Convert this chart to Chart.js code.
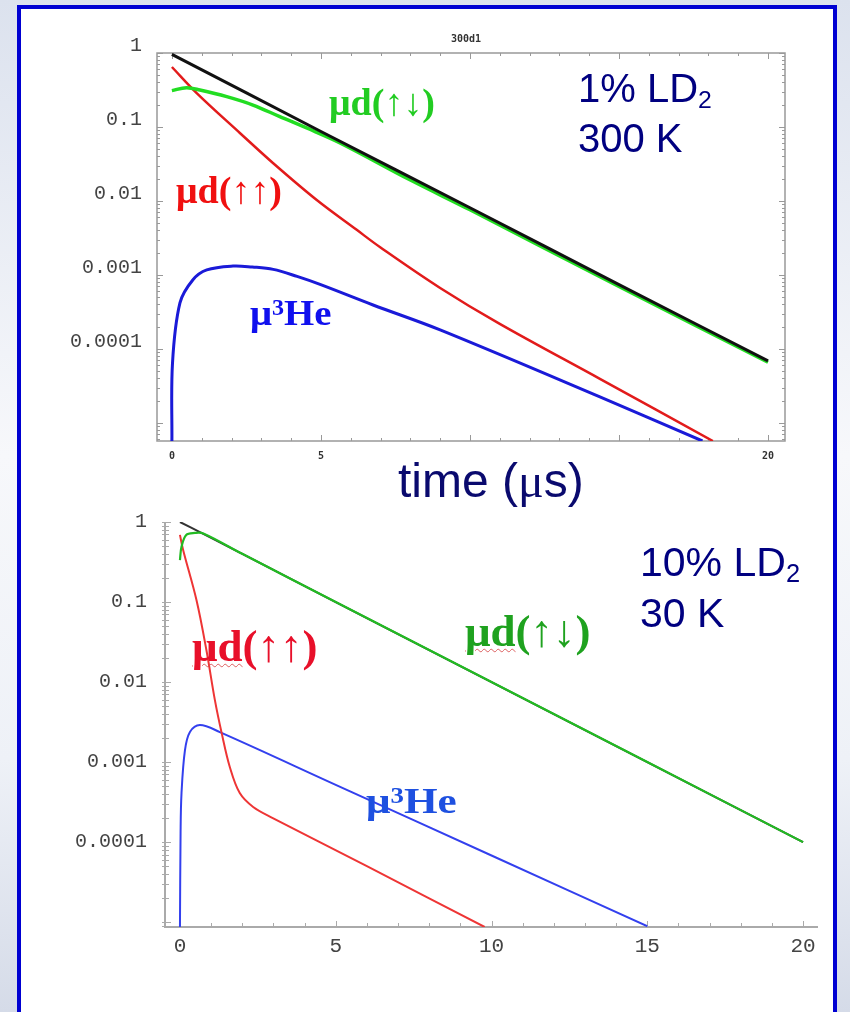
<!DOCTYPE html>
<html lang="en">
<head>
<meta charset="UTF-8">
<title>Muon populations in D2 targets</title>
<script src="https://cdn.jsdelivr.net/npm/chart.js"></script>
<style>
  html, body { margin: 0; padding: 0; }
  body {
    width: 850px; height: 1012px; overflow: hidden; position: relative;
    background: linear-gradient(to bottom, #dce2ee 0%, #f7f8fb 45%, #eef1f7 75%, #d5dbe8 100%);
    font-family: Arial, "Liberation Sans", sans-serif;
  }
  #frame {
    position: absolute; left: 17px; top: 5px; width: 812px; height: 1100px;
    border: 4px solid #0000d2; background: #fff;
  }
  .plot { position: absolute; left: 0; width: 850px; }
  #topPlot { top: 0; height: 480px; }
  #bottomPlot { top: 490px; height: 522px; }
  .lbl { position: absolute; white-space: nowrap; line-height: 1; transform-origin: left center; }
  .sym { font-family: "Liberation Serif", "Times New Roman", serif; font-weight: bold; }
  .sym .ar { font-weight: normal; }
  .sym sup { font-size: 0.62em; vertical-align: baseline; position: relative; top: -0.45em; }
  .spell { text-decoration: underline wavy rgba(215, 70, 70, 0.85); text-decoration-thickness: 1px; text-underline-offset: 2px; }
  .navy { color: #000080; font-family: Arial, "Liberation Sans", sans-serif; }
  .navy sub { font-size: 0.62em; vertical-align: baseline; position: relative; top: 0.25em; }
</style>
</head>
<body>
<div id="frame"></div>

<div class="plot" id="topPlot"><canvas id="topChart"></canvas></div>
<div class="plot" id="bottomPlot"><canvas id="bottomChart"></canvas></div>

<!-- top panel annotations -->
<div class="lbl" style="left:451px; top:33px; font: bold 10px 'DejaVu Sans Mono', monospace; color:#333;">300d1</div>
<div class="lbl sym" style="left:329px; top:83px; font-size:38px; color:#22cc22;">μd(<span class="ar">↑↓</span>)</div>
<div class="lbl sym" style="left:176px; top:171px; font-size:38px; color:#f01010;">μd(<span class="ar">↑↑</span>)</div>
<div class="lbl sym" style="left:250px; top:295px; font-size:36px; color:#1010ee; transform: scaleX(1.08);">μ<sup>3</sup>He</div>
<div class="lbl navy" style="left:578px; top:68px; font-size:40px;">1% LD<sub>2</sub></div>
<div class="lbl navy" style="left:578px; top:118px; font-size:40px;">300 K</div>
<div class="lbl navy" style="left:398px; top:457px; font-size:48px; color:#0a0a6e;">time (<span style="font-family:'Liberation Serif',serif;">μ</span>s)</div>

<!-- bottom panel annotations -->
<div class="lbl navy" style="left:640px; top:542px; font-size:41px;">10% LD<sub>2</sub></div>
<div class="lbl navy" style="left:640px; top:593px; font-size:41px;">30 K</div>
<div class="lbl sym" style="left:465px; top:609px; font-size:45px; color:#1fa21f;"><span class="spell">μd</span>(<span class="ar">↑↓</span>)</div>
<div class="lbl sym" style="left:192px; top:624px; font-size:45px; color:#e8102a;"><span class="spell">μd</span>(<span class="ar">↑↑</span>)</div>
<div class="lbl sym" style="left:366px; top:783px; font-size:36px; color:#1e50e0; transform: scaleX(1.2);">μ<sup>3</sup>He</div>

<script>
// ---- 1% LD2, 300 K : relative populations vs time (µs) ----
const topTicksX = [0, 5, 20];
const topTicksY = [1, 0.1, 0.01, 0.001, 0.0001];
const topLabelsY = ['1', '0.1', '0.01', '0.001', '0.0001'];

const topTotalT = [0, 5, 10, 15, 20];
const topTotalY = [0.96, 0.087, 0.0081, 7.4e-4, 6.9e-5];

const topAntiT = [0, 0.49, 0.94, 1.84, 2.72, 3.62, 4.52, 5.64, 8, 10, 15, 20];
const topAntiY = [0.31, 0.34, 0.316, 0.257, 0.198, 0.138, 0.097, 0.061, 0.0192, 0.0076, 7.0e-4, 6.6e-5];

const topParaT = [0, 0.84, 2.28, 3.39, 4.86, 6.2, 7, 9, 11, 14.36, 18.15];
const topParaY = [0.647, 0.285, 0.083, 0.0326, 0.0103, 0.00407, 0.00235, 6.67e-4, 2.18e-4, 3.94e-5, 5.7e-6];

const topHeT = [0, 0.02, 0.27, 0.7, 1.17, 2.05, 2.7, 3.4, 4.2, 4.97, 6.75, 9.0, 14.36, 17.8];
const topHeY = [5.7e-6, 6.45e-5, 4.19e-4, 8.56e-4, 1.17e-3, 1.32e-3, 1.28e-3, 1.19e-3, 9.55e-4, 7.45e-4, 3.93e-4, 1.81e-4, 2.25e-5, 5.7e-6];

// ---- 10% LD2, 30 K ----
const botTicksX = [0, 5, 10, 15, 20];
const botTicksY = [1, 0.1, 0.01, 0.001, 0.0001];
const botLabelsY = ['1', '0.1', '0.01', '0.001', '0.0001'];

const botTotalT = [0, 0.75, 5, 10, 15, 20];
const botTotalY = [1.0, 0.71, 0.1, 0.01, 0.001, 1.0e-4];

const botAntiT = [0, 0.05, 0.2, 0.48, 0.75, 2, 5, 10, 15, 20];
const botAntiY = [0.335, 0.49, 0.69, 0.73, 0.72, 0.40, 0.1, 0.01, 0.001, 1.0e-4];

const botParaT = [0, 0.1, 0.53, 0.85, 1.12, 1.34, 1.6, 1.92, 2.35, 2.98, 6, 9.78];
const botParaY = [0.69, 0.45, 0.106, 0.025, 0.006, 0.0023, 8.7e-4, 4.1e-4, 2.75e-4, 2.0e-4, 5.0e-5, 8.7e-6];

const botHeT = [0, 0.02, 0.05, 0.16, 0.32, 0.64, 1.28, 5, 10, 15];
const botHeY = [8.7e-6, 1.3e-4, 4.1e-4, 1.4e-3, 2.37e-3, 2.9e-3, 2.37e-3, 5.2e-4, 6.8e-5, 8.9e-6];

const minorSteps = [1, 2, 3, 4, 5, 6, 7, 8, 9];

function pts(t, v) {
  return t.map((x, i) => ({ x: x, y: v[i] }));
}

function series(t, v, color, width) {
  return {
    data: pts(t, v),
    borderColor: color,
    borderWidth: width,
    pointRadius: 0,
    fill: false,
    tension: 0.35
  };
}

// Mathematica-style frame: axis lines plus inward ticks (1 µs steps, log minors)
const frameTicks = {
  id: 'frameTicks',
  beforeDatasetsDraw(chart, args, o) {
    const { ctx, chartArea: a, scales: { x, y } } = chart;
    ctx.save();
    ctx.strokeStyle = o.color;
    ctx.lineWidth = o.lineWidth;
    ctx.beginPath();
    if (o.box) {
      ctx.rect(a.left, a.top, a.width, a.height);
    } else {
      ctx.moveTo(a.left, a.top);
      ctx.lineTo(a.left, a.bottom);
      ctx.lineTo(a.right, a.bottom);
    }
    ctx.stroke();

    ctx.lineWidth = 1;
    ctx.beginPath();
    for (let t = 0; t <= 20; t++) {
      const px = Math.round(x.getPixelForValue(t)) + 0.5;
      const len = t % 5 === 0 ? o.major : o.minor;
      ctx.moveTo(px, a.bottom);
      ctx.lineTo(px, a.bottom - len);
      if (o.box) {
        ctx.moveTo(px, a.top);
        ctx.lineTo(px, a.top + len);
      }
    }
    for (let e = 0; e >= -6; e--) {
      for (const m of minorSteps) {
        const v = m * Math.pow(10, e);
        if (v < y.min || v > y.max) continue;
        const py = Math.round(y.getPixelForValue(v)) + 0.5;
        const len = m === 1 ? o.major : o.minor;
        ctx.moveTo(a.left - o.out, py);
        ctx.lineTo(a.left + len, py);
        if (o.box) {
          ctx.moveTo(a.right, py);
          ctx.lineTo(a.right - len, py);
        }
      }
    }
    ctx.stroke();
    ctx.restore();
  }
};

function makeChart(id, cfg) {
  return new Chart(document.getElementById(id), {
    type: 'line',
    data: { datasets: cfg.datasets },
    options: {
      responsive: true,
      maintainAspectRatio: false,
      animation: false,
      events: [],
      layout: { padding: cfg.padding },
      plugins: {
        legend: { display: false },
        tooltip: { enabled: false },
        frameTicks: cfg.frame
      },
      scales: {
        x: {
          type: 'linear',
          min: cfg.xMin,
          max: cfg.xMax,
          grid: { display: false, drawTicks: false },
          border: { display: false },
          afterFit: s => { s.height = cfg.xHeight; },
          afterBuildTicks: s => { s.ticks = cfg.ticksX.map(v => ({ value: v })); },
          ticks: {
            autoSkip: false,
            maxRotation: 0,
            padding: cfg.xPad,
            color: cfg.xColor,
            font: cfg.xFont,
            callback: v => String(v)
          }
        },
        y: {
          type: 'logarithmic',
          min: cfg.yMin,
          max: 1,
          grid: { display: false, drawTicks: false },
          border: { display: false },
          afterFit: s => { s.width = cfg.yWidth; },
          afterBuildTicks: s => { s.ticks = cfg.ticksY.map(v => ({ value: v })); },
          ticks: {
            autoSkip: false,
            padding: cfg.yPad,
            labelOffset: cfg.yLabelOffset,
            color: '#444',
            font: cfg.yFont,
            callback: (v, i) => cfg.labelsY[i]
          }
        }
      }
    },
    plugins: [frameTicks]
  });
}

makeChart('topChart', {
  datasets: [
    series(topTotalT, topTotalY, '#111111', 3),
    series(topAntiT, topAntiY, '#22dd22', 3.5),
    series(topParaT, topParaY, '#e21b1b', 2.5),
    series(topHeT, topHeY, '#1a1ad8', 3)
  ],
  padding: { top: 53, right: 65, bottom: 0, left: 0 },
  xMin: -0.5, xMax: 20.57, xHeight: 39, xPad: 9,
  xColor: '#333', xFont: { family: 'DejaVu Sans Mono', size: 10, weight: 'bold' },
  yMin: 5.7e-6, yWidth: 157, yPad: 15, yLabelOffset: -7,
  yFont: { family: 'Liberation Mono', size: 20 },
  ticksX: topTicksX, ticksY: topTicksY, labelsY: topLabelsY,
  frame: { box: true, color: '#999', lineWidth: 1.5, major: 6, minor: 3, out: 0 }
});

makeChart('bottomChart', {
  datasets: [
    series(botAntiT, botAntiY, '#22bb22', 2.2),
    series(botTotalT, botTotalY, '#333333', 2),
    series(botParaT, botParaY, '#ee3535', 2),
    series(botHeT, botHeY, '#3340ee', 2)
  ],
  padding: { top: 32, right: 32, bottom: 0, left: 0 },
  xMin: -0.48, xMax: 20.48, xHeight: 85, xPad: 7,
  xColor: '#444', xFont: { family: 'Liberation Mono', size: 21 },
  yMin: 8.7e-6, yWidth: 165, yPad: 18, yLabelOffset: 0,
  yFont: { family: 'Liberation Mono', size: 20 },
  ticksX: botTicksX, ticksY: botTicksY, labelsY: botLabelsY,
  frame: { box: false, color: '#aaa', lineWidth: 2, major: 6, minor: 4, out: 3 }
});
</script>
</body>
</html>
